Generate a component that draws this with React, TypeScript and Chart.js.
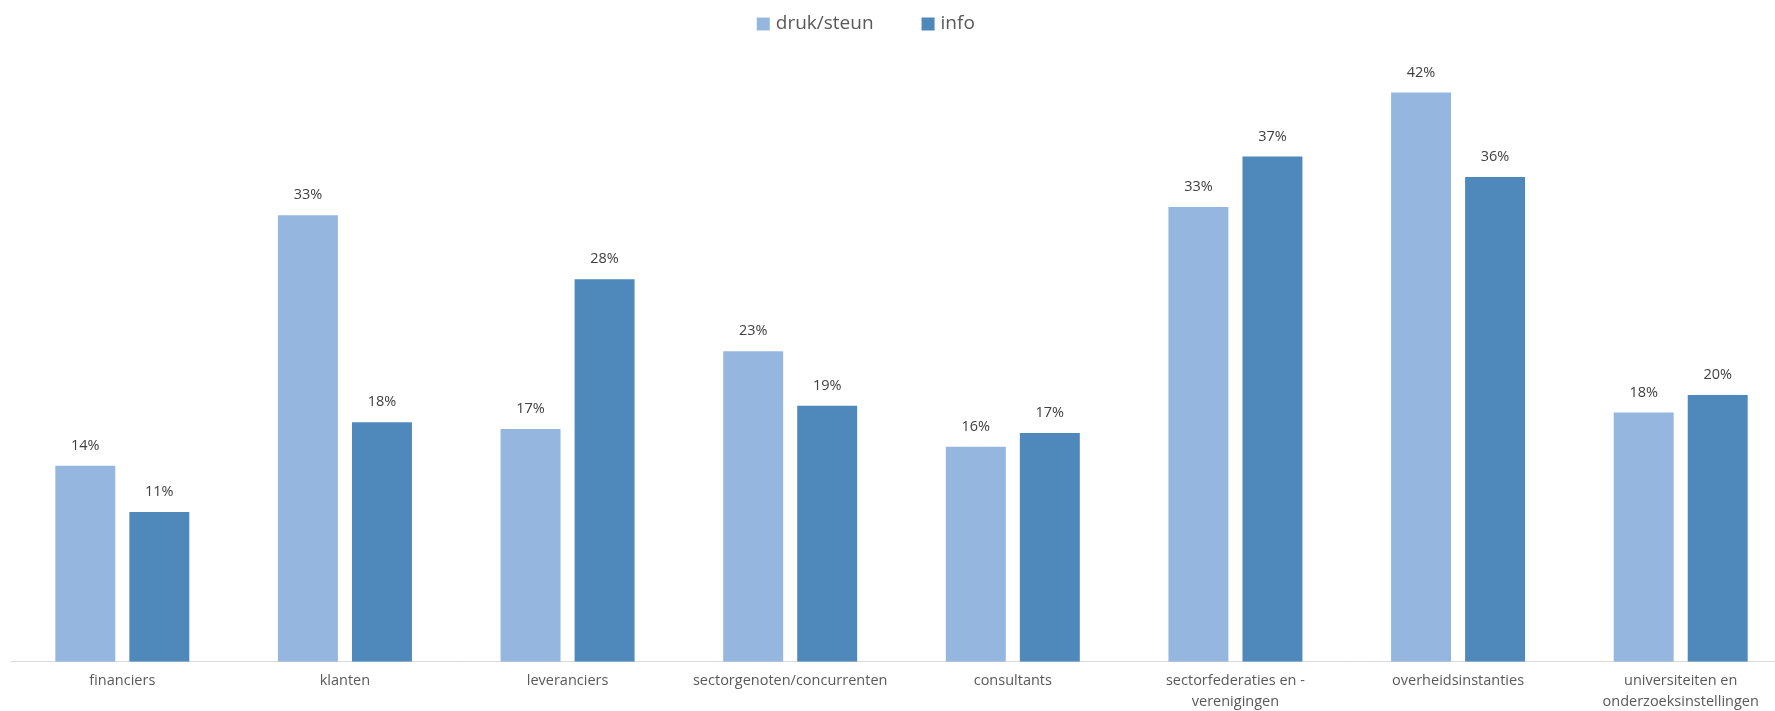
import React, { useEffect, useRef } from 'react';
import { Chart, registerables } from 'chart.js';

Chart.register(...registerables);

const categories: (string | string[])[] = [
  'financiers',
  'klanten',
  'leveranciers',
  'sectorgenoten/concurrenten',
  'consultants',
  ['sectorfederaties en -', 'verenigingen'],
  'overheidsinstanties',
  ['universiteiten en', 'onderzoeksinstellingen'],
];
const seriesNames = ['druk/steun', 'info'];
const drukSteun = [14.4, 32.8, 17.1, 22.8, 15.8, 33.4, 41.8, 18.3];
const info = [11.0, 17.6, 28.1, 18.8, 16.8, 37.1, 35.6, 19.6];
const seriesColors = ['#95B7DF', '#4F88BB'];
const yMax = 45;

const FONT = '"Open Sans", "DejaVu Sans", sans-serif';

const dataLabelPlugin = {
  id: 'dataLabels',
  afterDatasetsDraw(chart: any) {
    const ctx = chart.ctx;
    ctx.save();
    ctx.font = `14.5px ${FONT}`;
    ctx.fillStyle = '#404040';
    ctx.textAlign = 'center';
    ctx.textBaseline = 'middle';
    chart.data.datasets.forEach((ds: any, di: number) => {
      const meta = chart.getDatasetMeta(di);
      meta.data.forEach((bar: any, i: number) => {
        ctx.fillText(Math.round(ds.data[i]) + '%', bar.x, bar.y - 20);
      });
    });
    ctx.restore();
  },
};

const topLegendPlugin = {
  id: 'topLegend',
  afterDraw(chart: any) {
    const ctx = chart.ctx;
    ctx.save();
    ctx.font = `19px ${FONT}`;
    const box = 13;
    const boxGap = 6;
    const itemGap = 48;
    const items = chart.data.datasets.map((ds: any) => ({
      label: ds.label,
      color: ds.backgroundColor,
      w: box + boxGap + ctx.measureText(ds.label).width,
    }));
    const total = items.reduce((s: number, it: any) => s + it.w, 0) + itemGap * (items.length - 1);
    let x = chart.width * 0.481 - total / 2;
    const y = 24;
    items.forEach((it: any) => {
      ctx.fillStyle = it.color;
      ctx.fillRect(x, y - box / 2, box, box);
      ctx.fillStyle = '#595959';
      ctx.textAlign = 'left';
      ctx.textBaseline = 'middle';
      ctx.fillText(it.label, x + box + boxGap, y);
      x += it.w + itemGap;
    });
    ctx.restore();
  },
};

export default function App() {
  const canvasRef = useRef<HTMLCanvasElement | null>(null);

  useEffect(() => {
    if (!canvasRef.current) return;
    const chart = new Chart(canvasRef.current, {
      type: 'bar',
      data: {
        labels: categories as any,
        datasets: [
          {
            label: seriesNames[0],
            data: drukSteun,
            backgroundColor: seriesColors[0],
            categoryPercentage: 0.665,
            barPercentage: 0.81,
          },
          {
            label: seriesNames[1],
            data: info,
            backgroundColor: seriesColors[1],
            categoryPercentage: 0.665,
            barPercentage: 0.81,
          },
        ],
      },
      options: {
        responsive: false,
        animation: false,
        layout: { padding: { left: 11, right: 8, top: 49, bottom: 6 } },
        plugins: {
          legend: { display: false },
          tooltip: { enabled: false },
        },
        scales: {
          x: {
            grid: { display: false, drawTicks: false },
            border: { display: true, color: '#D9D9D9', width: 1 },
            ticks: {
              color: '#595959',
              font: { family: FONT, size: 14.5, lineHeight: 1.42 },
              maxRotation: 0,
              minRotation: 0,
              autoSkip: false,
              padding: 9,
            },
          },
          y: {
            display: false,
            min: 0,
            max: yMax,
          },
        },
      },
      plugins: [dataLabelPlugin, topLegendPlugin],
    });
    return () => chart.destroy();
  }, []);

  return (
    <div
      style={{
        position: 'fixed',
        left: 0,
        top: 0,
        width: 1775,
        height: 711,
        overflow: 'hidden',
        background: '#ffffff',
      }}
    >
      <canvas ref={canvasRef} width={1800} height={727} style={{ width: 1800, height: 727, display: 'block' }} />
    </div>
  );
}
